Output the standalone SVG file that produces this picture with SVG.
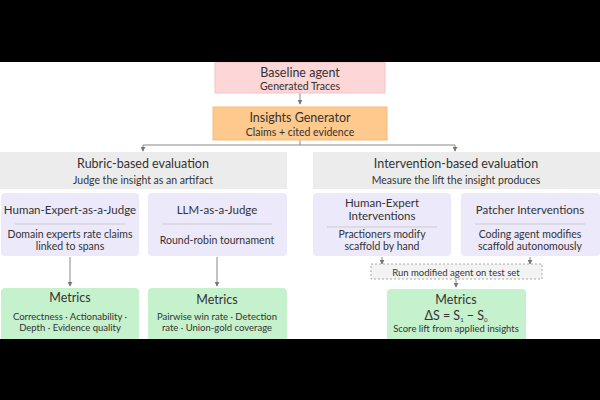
<svg xmlns="http://www.w3.org/2000/svg" width="600" height="400" viewBox="0 0 600 400">
<defs>
<marker id="ah" viewBox="0 0 6 6" refX="5" refY="3" markerWidth="5" markerHeight="5" orient="auto"><path d="M0,0 L6,3 L0,6 z" fill="#777"/></marker>
<style>
text{font-family:Lato,"Noto Sans","Liberation Sans",sans-serif;fill:#333;text-anchor:middle}
.t{font-size:12.5px}
.s{font-size:10.5px}
.m{font-size:11.5px}
.x{font-size:9.5px}
.c{stroke:#888;stroke-width:1;fill:none;marker-end:url(#ah)}
.pur{fill:#ece9fb}
.grn{fill:#c5f1cc}
.gry{fill:#ececec}
.div{stroke:#ccc;stroke-width:1}
</style>
</defs>
<rect width="600" height="400" fill="#fff"/>
<g id="connectors">
<path class="c" d="M300,93 V104"/>
<path class="c" d="M300,140 V145 M143,145 H455 M143,145 V151"/>
<path class="c" d="M455,145 V151"/>
<path class="c" d="M70,257 V286"/>
<path class="c" d="M217,257 V286"/>
<path class="c" d="M382,257 V264"/>
<path class="c" d="M530,257 V264"/>
<path class="c" d="M456,279 V287"/>
</g>
<g id="baseline">
<rect x="215" y="62" width="170" height="31" fill="#fdd6d7" stroke="#f4c4c6" stroke-width="1"/>
<text class="t" x="300" y="77">Baseline agent</text>
<text class="s" x="300" y="90">Generated Traces</text>
</g>
<g id="insights">
<rect x="213" y="107" width="174" height="33" fill="#fdc98c" stroke="#f3bb7c" stroke-width="1"/>
<text class="t" x="300" y="122">Insights Generator</text>
<text class="s" x="300" y="136">Claims + cited evidence</text>
</g>
<g id="rubric">
<rect class="gry" x="0" y="152" width="287" height="37"/>
<text class="t" x="143" y="168">Rubric-based evaluation</text>
<text class="s" x="143" y="184">Judge the insight as an artifact</text>
</g>
<g id="intervention">
<rect class="gry" x="313" y="152" width="287" height="37"/>
<text class="t" x="456" y="168">Intervention-based evaluation</text>
<text class="s" x="456" y="184">Measure the lift the insight produces</text>
</g>
<g id="human-judge">
<rect class="pur" x="1" y="193" width="138" height="63" rx="4"/>
<text class="m" x="70" y="214">Human-Expert-as-a-Judge</text>
<line class="div" x1="15" y1="224" x2="125" y2="224"/>
<text class="s" x="70" y="238">Domain experts rate claims</text>
<text class="s" x="70" y="250">linked to spans</text>
</g>
<g id="llm-judge">
<rect class="pur" x="148" y="193" width="139" height="63" rx="4"/>
<text class="m" x="217" y="214">LLM-as-a-Judge</text>
<line class="div" x1="162" y1="224" x2="272" y2="224"/>
<text class="s" x="217" y="244">Round-robin tournament</text>
</g>
<g id="human-interventions">
<rect class="pur" x="313" y="193" width="138" height="63" rx="4"/>
<text class="m" x="382" y="207">Human-Expert</text>
<text class="m" x="382" y="220">Interventions</text>
<line class="div" x1="327" y1="227" x2="437" y2="227"/>
<text class="s" x="382" y="238">Practioners modify</text>
<text class="s" x="382" y="250">scaffold by hand</text>
</g>
<g id="patcher">
<rect class="pur" x="461" y="193" width="139" height="63" rx="4"/>
<text class="m" x="530" y="214">Patcher Interventions</text>
<line class="div" x1="475" y1="224" x2="585" y2="224"/>
<text class="s" x="530" y="238">Coding agent modifies</text>
<text class="s" x="530" y="250">scaffold autonomously</text>
</g>
<g id="run-agent">
<rect x="371" y="264" width="171" height="15" fill="#f3f3f3" stroke="#aaa" stroke-width="1" stroke-dasharray="2,2"/>
<text class="x" x="456" y="275.5">Run modified agent on test set</text>
</g>
<g id="metrics-rubric">
<rect class="grn" x="1" y="288" width="138" height="60" rx="4"/>
<text class="t" x="70" y="302">Metrics</text>
<text class="x" x="70" y="320">Correctness · Actionability ·</text>
<text class="x" x="70" y="331">Depth · Evidence quality</text>
</g>
<g id="metrics-llm">
<rect class="grn" x="148" y="288" width="139" height="60" rx="4"/>
<text class="t" x="217" y="304">Metrics</text>
<text class="x" x="217" y="320">Pairwise win rate · Detection</text>
<text class="x" x="217" y="331">rate · Union-gold coverage</text>
</g>
<g id="metrics-intervention">
<rect class="grn" x="387" y="289" width="139" height="59" rx="4"/>
<text class="t" x="456" y="304">Metrics</text>
<text class="t" x="456" y="320">ΔS = S<tspan font-size="6" dy="2">1</tspan><tspan dy="-2"> − S</tspan><tspan font-size="6" dy="2">0</tspan></text>
<text class="x" x="456" y="332">Score lift from applied insights</text>
</g>
<rect x="0" y="0" width="600" height="62" fill="#000"/>
<rect x="0" y="339" width="600" height="61" fill="#000"/>
</svg>
